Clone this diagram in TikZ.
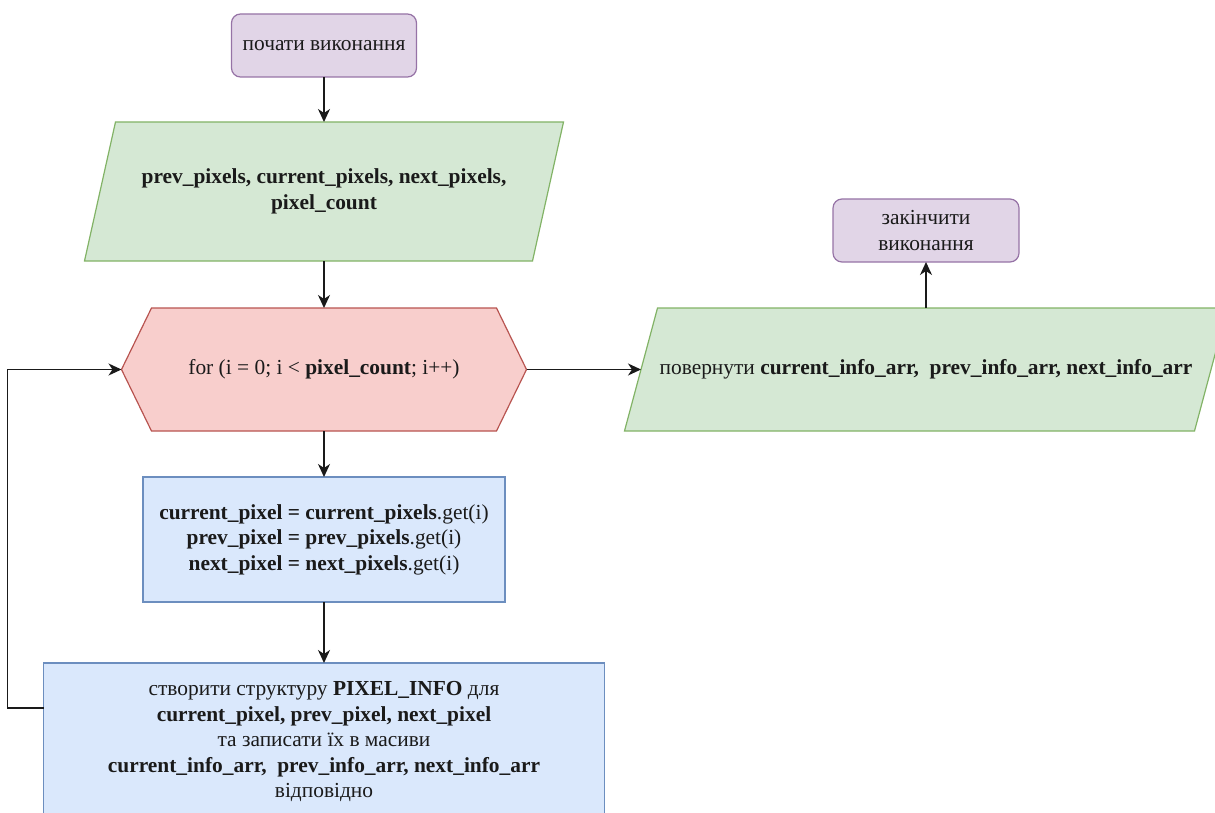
\documentclass[tikz,border=0pt]{standalone}
\usepackage{fontspec}
\setmainfont{Liberation Serif}
\usetikzlibrary{arrows.meta,calc,backgrounds}

\definecolor{termfill}{HTML}{E1D5E7}
\definecolor{termline}{HTML}{9673A6}
\definecolor{iofill}{HTML}{D5E8D4}
\definecolor{ioline}{HTML}{82B366}
\definecolor{loopfill}{HTML}{F8CECC}
\definecolor{loopline}{HTML}{B85450}
\definecolor{procfill}{HTML}{DAE8FC}
\definecolor{procline}{HTML}{6C8EBF}
\definecolor{ink}{HTML}{1A1A1A}

\tikzset{
  txt/.style={inner sep=0pt, outer sep=0pt, align=center, text=ink,
              font=\fontsize{21.4}{25.5}\selectfont},
  terminal/.style={txt, draw=termline, fill=termfill, line width=1.2pt, rounded corners=9pt},
  process/.style={txt, draw=procline, fill=procfill, line width=1.2pt},
  iobody/.style={draw=ioline, fill=iofill, line width=1.2pt, line join=miter},
  loopbody/.style={draw=loopline, fill=loopfill, line width=1.2pt, line join=miter},
  flow/.style={draw=ink, line width=1.4pt, -{Stealth[length=13pt,width=12pt,inset=4pt]}}
}

\begin{document}
\begin{tikzpicture}[x=1pt,y=-1pt]
\useasboundingbox (0,0) rectangle (1215,813);
\clip (0,0) rectangle (1215,813);

% start terminal
\node[terminal, minimum width=185, minimum height=63] (start) at (324,45.5) {почати виконання};

% input data (parallelogram outline drawn on the background layer)
\node[txt, minimum width=479, minimum height=139] (inp) at (324,191.5)
  {\textbf{prev\_pixels, current\_pixels, next\_pixels,}\\ \textbf{pixel\_count}};

% loop header (hexagon)
\node[txt, minimum width=405, minimum height=123] (loop) at (324,369.5)
  {for (i = 0; i < \textbf{pixel\_count}; i++)};

% body of the loop
\node[process, minimum width=362, minimum height=125] (fetch) at (324,539.5)
  {\textbf{current\_pixel = current\_pixels}.get(i)\\
   \textbf{prev\_pixel = prev\_pixels}.get(i)\\
   \textbf{next\_pixel = next\_pixels}.get(i)};

\node[process, minimum width=561, minimum height=157] (store) at (324,741.5)
  {створити структуру \textbf{PIXEL\_INFO} для\\
   \textbf{current\_pixel, prev\_pixel, next\_pixel}\\
   та записати їх в масиви\\
   \textbf{current\_info\_arr,\ \ prev\_info\_arr, next\_info\_arr}\\
   відповідно};

% output data (parallelogram)
\node[txt, minimum width=603, minimum height=123] (ret) at (926,369.5)
  {повернути \textbf{current\_info\_arr,\ \ prev\_info\_arr, next\_info\_arr}};

% end terminal
\node[terminal, minimum width=186, minimum height=63] (stop) at (926,230.5)
  {закінчити\\виконання};

\begin{scope}[on background layer]
  \path[iobody] ($(inp.north west)+(31,0)$) -- (inp.north east)
    -- ($(inp.south east)-(31,0)$) -- (inp.south west) -- cycle;
  \path[iobody] ($(ret.north west)+(33,0)$) -- (ret.north east)
    -- ($(ret.south east)-(33,0)$) -- (ret.south west) -- cycle;
  \path[loopbody] (loop.west) -- ($(loop.north west)+(30,0)$)
    -- ($(loop.north east)-(30,0)$) -- (loop.east)
    -- ($(loop.south east)-(30,0)$) -- ($(loop.south west)+(30,0)$) -- cycle;
\end{scope}

% connector end points on slanted / offset edges
\coordinate (retin) at ($(ret.west)+(16.5,0)$);
\coordinate (storeout) at ($(store.north west)+(0,45)$);

% connectors
\draw[flow] (start) -- (inp);
\draw[flow] (inp) -- (loop);
\draw[flow] (loop) -- (fetch);
\draw[flow] (fetch) -- (store);
\draw[flow] (storeout) -- ++(-36,0) |- (loop.west);
\draw[flow] (loop.east) -- (retin);
\draw[flow] (ret) -- (stop);
\end{tikzpicture}
\end{document}
